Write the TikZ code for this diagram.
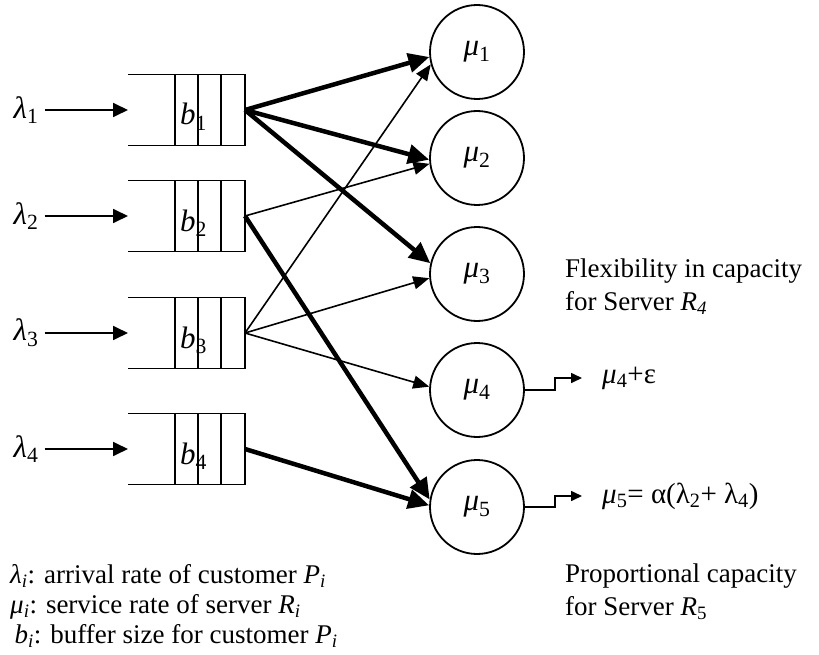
\documentclass[tikz,border=0pt]{standalone}
\usepackage{fontspec}
\setmainfont{Liberation Serif}
\usetikzlibrary{arrows.meta,positioning}

\newcommand{\sym}[2]{\textit{#1}\textsubscript{#2}}

\begin{document}
\begin{tikzpicture}[x=1pt,y=-1pt,
    every node/.style={inner sep=2pt,font=\fontsize{27}{30}\selectfont},
    greek/.style={font=\fontsize{31}{34}\selectfont},
    server/.style={draw,circle,line width=1.8pt,minimum size=94pt,inner sep=0pt,greek},
    bufline/.style={line width=1.6pt},
    feed/.style={line width=1.8pt,shorten <=4pt,-{Triangle[length=15pt,width=14pt]}},
    light/.style={line width=1.6pt,-{Triangle[length=16pt,width=13pt]}},
    heavy/.style={line width=4.5pt,-{Triangle[length=21pt,width=19pt]}},
    outflow/.style={line width=1.6pt,-{Triangle[length=11pt,width=10pt]}},
    note/.style={align=left,anchor=west,font=\fontsize{27}{33}\selectfont}]

    \useasboundingbox (0,0) rectangle (819,655);

    %%queues
    \foreach \i/\y in {1/110,2/216,3/333,4/449}{
        \draw[bufline] (128,\y-35.5) -- (245,\y-35.5) -- (245,\y+35.5) -- (128,\y+35.5);
        \foreach \x in {175,198,221}
            \draw[bufline] (\x,\y-35.5) -- (\x,\y+35.5);
        \coordinate (q\i) at (245,\y);
        \coordinate (in\i) at (128,\y);
        \node[greek] (lam\i) at (26,\y) {\sym{λ}{\i}};
        \node[anchor=base west,inner sep=0pt,greek] (b\i) at (180,\y+15) {\sym{b}{\i}};
        \draw[feed] (lam\i) -- (in\i);
    }

    %%servers
    \foreach \i/\y in {1/52,2/158,3/274,4/390,5/507}
        \node[server] (mu\i) at (477,\y) {\sym{μ}{\i}};

    %%routing
    \draw[heavy] (q1) -- (mu1.186);
    \draw[heavy] (q1) -- (mu2.182);
    \draw[heavy] (q1) -- (mu3.167);
    \draw[light] (q2) -- (mu2.187);
    \draw[heavy] (q2) -- (mu5.171);
    \draw[light] (q3) -- (mu1.195);
    \draw[light] (q3) -- (mu3.185);
    \draw[light] (q3) -- (mu4.176);
    \draw[heavy] (q4) -- (mu5.178);

    %%capacity changes
    \node[anchor=west,inner sep=0pt,font=\fontsize{29}{32}\selectfont] (eps) at (602,378) {\sym{μ}{4}+ε};
    \node[anchor=west,inner sep=0pt,font=\fontsize{29}{32}\selectfont] (prop) at (602,496) {\sym{μ}{5}= α(λ\textsubscript{2}+ λ\textsubscript{4})};
    \draw[outflow] (mu4.east) -- ++(30,0) |- ([xshift=-20pt]eps.west);
    \draw[outflow] (mu5.east) -- ++(30,0) |- ([xshift=-20pt]prop.west);

    \node[note] (flex) at (563,287) {Flexibility in capacity\\for Server \sym{R}{\textit{4}}};
    \node[note] (propnote) at (563,592) {Proportional capacity\\for Server \sym{R}{5}};

    %%legend
    \node[anchor=west,align=left] (legend) at (8,606)
        {\sym{λ}{\textit{i}}: arrival rate of customer \sym{P}{\textit{i}}\\
         \sym{μ}{\textit{i}}: service rate of server \sym{R}{\textit{i}}\\
         \,\sym{b}{\textit{i}}: buffer size for customer \sym{P}{\textit{i}}};

\end{tikzpicture}
\end{document}
